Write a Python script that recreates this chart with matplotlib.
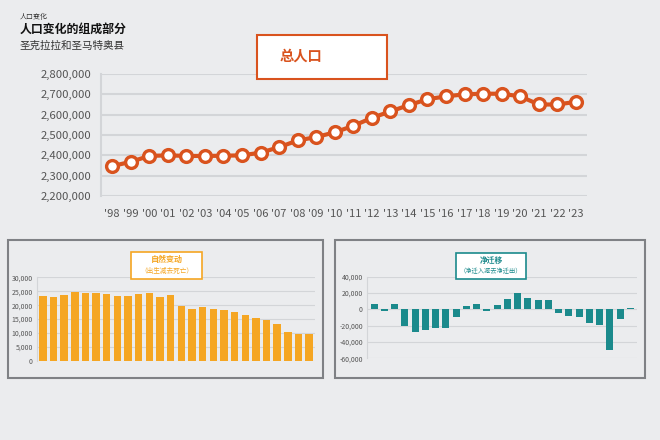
import numpy as np
import matplotlib
matplotlib.use("Agg")
import matplotlib.pyplot as plt
from matplotlib.patches import Rectangle
from matplotlib.ticker import FuncFormatter

plt.rcParams['font.family'] = ['Liberation Sans Narrow', 'Noto Sans CJK SC', 'DejaVu Sans']
CJK = ['Noto Sans CJK SC', 'DejaVu Sans']

# data
years = ["'98", "'99", "'00", "'01", "'02", "'03", "'04", "'05", "'06", "'07",
         "'08", "'09", "'10", "'11", "'12", "'13", "'14", "'15", "'16", "'17",
         "'18", "'19", "'20", "'21", "'22", "'23"]
population = [2347000, 2368000, 2397000, 2400000, 2397000, 2397000, 2398000,
              2400000, 2413000, 2440000, 2473000, 2490000, 2513000, 2545000,
              2584000, 2616000, 2647000, 2676000, 2690000, 2700000, 2703000,
              2703000, 2690000, 2650000, 2650000, 2663000]
natural_change = [23200, 22800, 23700, 24600, 24300, 24300, 23900, 23400, 23300,
                  23900, 24300, 22800, 23700, 19800, 18800, 19400, 18600, 18300,
                  17700, 16500, 15300, 14700, 13300, 10500, 9700, 9700]
net_migration = [6500, -2400, 6100, -20000, -27300, -25300, -23300, -23300, -9000,
                 3700, 6100, -2400, 5700, 13000, 20000, 13900, 11800, 11800,
                 -4000, -8200, -9400, -17100, -19600, -49400, -11400, 1600]

BG = '#ebecee'
GRID = '#d3d5d8'
RED = '#d9531e'
ORANGE = '#f5a623'
TEAL = '#1b8a8c'
TXT = '#555555'

W, H = 660, 440
fig = plt.figure(figsize=(6.6, 4.4), dpi=100, facecolor=BG)


def axbox(l, t, r, b):
    return [l / W, 1 - b / H, (r - l) / W, (b - t) / H]


def fx(x):
    return x / W


def fy(y):
    return 1 - y / H


comma = FuncFormatter(lambda v, p: f'{int(v):,}')
x = np.arange(len(years))

# panel frames, behind everything
for l, t, r, b in [(8, 240, 323, 378), (335, 240, 645, 378)]:
    fig.patches.append(Rectangle((fx(l), fy(b)), (r - l) / W, (b - t) / H,
                                 transform=fig.transFigure, facecolor=BG,
                                 edgecolor='#7f8185', lw=1.5, zorder=-5))

# header
fig.text(fx(20), fy(17), '人口变化', fontsize=5, family=CJK, color='#333333', va='center')
fig.text(fx(20), fy(29), '人口变化的组成部分', fontsize=8.6, family=CJK, weight='bold',
         color='#111111', va='center')
fig.text(fx(20), fy(46), '圣克拉拉和圣马特奥县', fontsize=7.6, family=CJK, color='#333333',
         va='center')

# main population chart
ax = fig.add_axes(axbox(101, 74, 587, 196))
ax.set_facecolor('none')
ax.plot(x, population, color=RED, lw=3, marker='o', ms=8.5, mfc='white', mec=RED,
        mew=2.4, zorder=3, clip_on=False)
ax.set_xlim(-0.6, 25.6)
ax.set_ylim(2200000, 2800000)
ax.set_yticks(np.arange(2200000, 2800001, 100000))
ax.yaxis.set_major_formatter(comma)
ax.set_xticks(x)
ax.set_xticklabels(years)
ax.grid(axis='y', color=GRID, lw=1.5)
ax.set_axisbelow(True)
for s in ['top', 'right', 'bottom']:
    ax.spines[s].set_visible(False)
ax.spines['left'].set_color(GRID)
ax.spines['left'].set_linewidth(1.5)
ax.tick_params(length=0, colors=TXT)
ax.tick_params(axis='y', pad=7, labelsize=8.2)
ax.tick_params(axis='x', pad=9, labelsize=8)

fig.patches.append(Rectangle((fx(257), fy(79)), (387 - 257) / W, (79 - 35) / H,
                             transform=fig.transFigure, facecolor='white',
                             edgecolor=RED, lw=1.5, zorder=5))
fig.text(fx(280), fy(57), '总人口', fontsize=10.3, family=CJK, weight='bold', color=RED,
         va='center', zorder=6)

# natural change
ax1 = fig.add_axes(axbox(37, 277.3, 315, 361))
ax1.set_facecolor('none')
ax1.bar(x, natural_change, width=0.7, color=ORANGE, zorder=3)
ax1.set_xlim(-0.55, 25.55)
ax1.set_ylim(0, 30000)
ax1.set_yticks(np.arange(0, 30001, 5000))
ax1.yaxis.set_major_formatter(comma)
ax1.set_xticks([])
ax1.grid(axis='y', color=GRID, lw=0.8)
ax1.set_axisbelow(True)
for s in ['top', 'right', 'bottom']:
    ax1.spines[s].set_visible(False)
ax1.spines['left'].set_color(GRID)
ax1.tick_params(length=0, colors=TXT, labelsize=5, pad=3)

fig.patches.append(Rectangle((fx(131), fy(279)), (202 - 131) / W, (279 - 252) / H,
                             transform=fig.transFigure, facecolor='white',
                             edgecolor=ORANGE, lw=1.2, zorder=5))
fig.text(fx(166.5), fy(259.5), '自然变动', fontsize=5.8, family=CJK, weight='bold',
         color=ORANGE, ha='center', va='center', zorder=6)
fig.text(fx(166.5), fy(271), '（出生减去死亡）', fontsize=4.8, family=CJK,
         color=ORANGE, ha='center', va='center', zorder=6)

# net migration
ax2 = fig.add_axes(axbox(367, 276.7, 637, 358.3))
ax2.set_facecolor('none')
ax2.bar(x, net_migration, width=0.7, color=TEAL, zorder=3)
ax2.set_xlim(-0.7, 25.65)
ax2.set_ylim(-60000, 40000)
ax2.set_yticks(np.arange(-60000, 40001, 20000))
ax2.yaxis.set_major_formatter(comma)
ax2.set_xticks([])
ax2.grid(axis='y', color=GRID, lw=0.8)
ax2.set_axisbelow(True)
for s in ['top', 'right', 'bottom']:
    ax2.spines[s].set_visible(False)
ax2.spines['left'].set_color(GRID)
ax2.tick_params(length=0, colors=TXT, labelsize=5, pad=3)

fig.patches.append(Rectangle((fx(456), fy(279)), (526 - 456) / W, (279 - 253) / H,
                             transform=fig.transFigure, facecolor='white',
                             edgecolor=TEAL, lw=1.2, zorder=5))
fig.text(fx(491), fy(260), '净迁移', fontsize=5.6, family=CJK, weight='bold',
         color=TEAL, ha='center', va='center', zorder=6)
fig.text(fx(491), fy(271.5), '（净迁入减去净迁出）', fontsize=4.5, family=CJK,
         color=TEAL, ha='center', va='center', zorder=6)

fig.savefig('out.png', dpi=100, facecolor=BG)
